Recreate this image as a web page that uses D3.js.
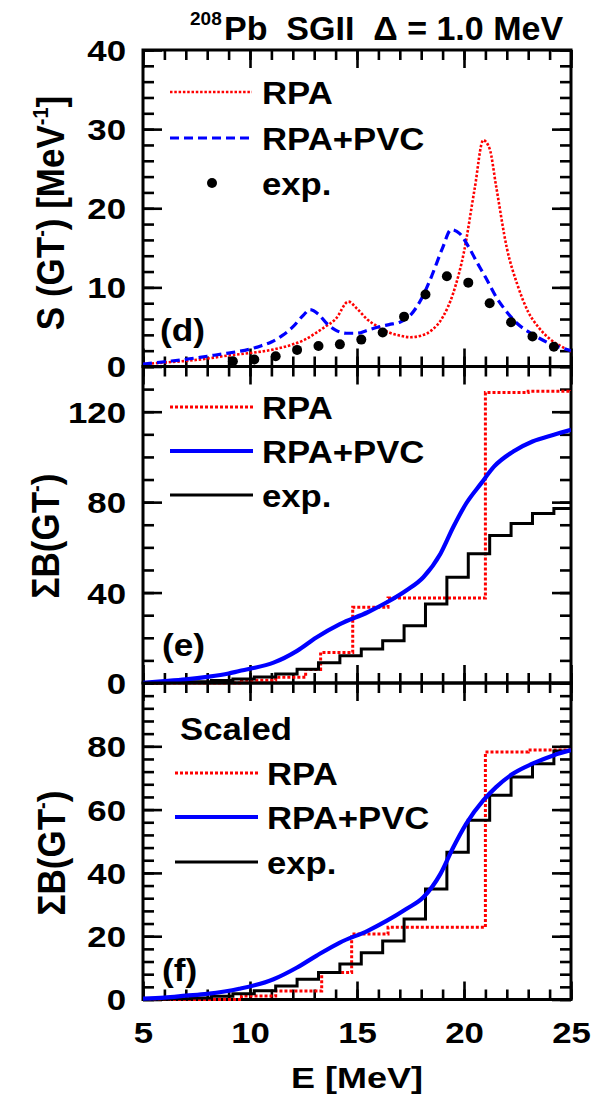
<!DOCTYPE html>
<html>
<head>
<meta charset="utf-8">
<script src="https://cdn.jsdelivr.net/npm/d3@7"></script>
<style>
  body { margin: 0; background: #fff; }
  svg { display: block; }
  text { font-family: "Liberation Sans", Arial, sans-serif; font-weight: bold; fill: #000; }
</style>
</head>
<body>
<svg id="chart" width="601" height="1104"></svg>
<script>
// ── Data ─────────────────────────────────────────────────────────────
const xMajor = [5, 10, 15, 20, 25];
const xMinor = [5,6,7,8,9,10,11,12,13,14,15,16,17,18,19,20,21,22,23,24,25];

// (d) strength functions
const dRpaE = [5.0,6.0,7.0,8.0,9.0,10.0,11.0,12.0,12.5,13.0,13.5,14.0,14.6,15.0,15.5,16.0,16.5,17.0,17.5,18.0,18.5,19.0,19.5,20.0,20.5,20.9,21.2,21.5,22.0,22.5,23.0,23.5,24.0,24.5,25.0];
const dRpaS = [0.3,0.5,0.7,1.0,1.4,1.7,2.1,2.8,3.3,4.1,5.0,6.0,8.2,7.3,5.9,5.0,4.3,3.9,3.7,3.9,4.6,6.2,9.3,14.5,22.5,28.6,27.5,22.8,15.0,10.3,6.9,4.9,3.5,2.6,1.9];
const dPvcE = [5.0,6.0,7.0,8.0,9.0,10.0,10.5,11.0,11.5,12.0,12.5,12.8,13.2,13.6,14.0,14.5,15.0,15.5,16.0,16.5,17.0,17.5,18.0,18.5,19.0,19.4,19.8,20.2,20.6,21.0,21.5,22.0,22.5,23.0,23.5,24.0,24.5,25.0];
const dPvcS = [0.3,0.6,0.9,1.3,1.7,2.2,2.6,3.1,3.9,5.0,6.5,7.2,6.6,5.4,4.6,4.2,4.2,4.6,5.0,5.3,5.6,6.5,8.5,11.5,15.0,17.3,16.8,15.2,13.2,11.3,8.8,6.9,5.4,4.4,3.6,2.9,2.4,2.0];
const dExpE = [9.2,10.2,11.2,12.2,13.2,14.2,15.2,16.2,17.2,18.2,19.2,20.2,21.2,22.2,23.2,24.2];
const dExpS = [0.67,0.88,1.3,2.1,2.6,2.8,3.4,4.3,6.3,9.1,11.4,10.6,8.0,5.6,3.8,2.5];

// (e) running sums
const expE  = [5.2,6.2,7.2,8.2,9.2,10.2,11.2,12.2,13.2,14.2,15.2,16.2,17.2,18.2,19.2,20.2,21.2,22.2,23.2,24.2];
const eRpaE = [5.0,9.6,11.2,12.6,13.3,14.8,16.45,21.0,23.0,25.0];
const eRpaB = [0,1.2,2.5,6.0,13.5,33.5,37.6,128.5,129.0,129.5];
const ePvcE = [5.0,6.0,7.0,8.0,9.0,9.5,10.0,11.1,12.2,13.1,14.2,15.5,16.4,17.3,18.1,18.9,19.5,20.1,20.8,21.4,22.3,23.2,24.2,25.0];
const ePvcB = [0.1,0.8,1.6,2.7,4.2,5.3,6.3,9.0,14.2,20.1,26.0,31.3,35.7,40.9,46.8,57.2,69.0,79.4,88.3,95.7,102.4,106.8,109.8,112.0];
const eExpB = [0.1,0.3,0.6,1.1,1.8,2.7,4.0,6.1,9.0,12.0,15.0,18.7,25.3,35.0,46.8,57.2,65.3,70.5,75.0,77.2];

// (f) scaled running sums
const fRpaE = [5.0,9.6,11.2,13.35,14.75,16.45,21.0,23.0,25.0];
const fRpaB = [0,1.1,2.7,8.5,20.7,22.8,78.2,78.8,79.3];
const fPvcE = [5.0,6.0,7.0,8.0,9.5,11.1,12.2,13.1,14.2,15.5,16.4,17.3,18.1,18.9,19.5,20.1,20.9,21.5,22.3,23.2,24.2,25.0];
const fPvcB = [0.3,0.6,1.2,1.8,3.4,6.4,10.1,13.8,18.0,21.7,24.9,28.6,32.3,39.7,48.1,55.5,62.9,67.1,71.4,74.5,77.2,78.8];
const fExpB = [0.1,0.2,0.5,1.0,1.8,2.8,4.3,6.4,8.5,11.2,14.8,18.5,25.4,34.9,46.5,56.6,64.5,70.3,74.5,78.5];

const legendLabels = ["RPA", "RPA+PVC", "exp."];

// ── Layout ───────────────────────────────────────────────────────────
const L = 143, R = 571, PH = 316.5;
const RED = "#ff0000", BLUE = "#0000ff";
const svg = d3.select("#chart");
const x = d3.scaleLinear().domain([5, 25]).range([L, R]);

const zip = (a, b) => a.map((v, i) => [v, b[i]]);

const panels = [
    { id: "d", top: 50,    yMax: 40,  major: [0,10,20,30,40], minor: d3.range(0, 40.1, 2),  labelX: 64, labelY: 213 },
    { id: "e", top: 366.5, yMax: 140, major: [0,40,80,120],   minor: d3.range(0, 140.1, 10), labelX: 59, labelY: 536 },
    { id: "f", top: 683,   yMax: 100, major: [0,20,40,60,80], minor: d3.range(0, 100.1, 4),  labelX: 65, labelY: 853 }
];

function stretchText(sel, sx) {
    return sel.attr("transform", function () {
        const t = d3.select(this).attr("transform") || "";
        return t + ` scale(${sx},1)`;
    });
}

panels.forEach(p => {
    const bottom = p.top + PH;
    p.y = d3.scaleLinear().domain([0, p.yMax]).range([bottom, p.top]);
    const g = svg.append("g");
    p.g = g;

    // frame
    g.append("rect").attr("x", L).attr("y", p.top).attr("width", R - L).attr("height", PH)
        .attr("fill", "none").attr("stroke", "#000").attr("stroke-width", 3);

    // inward ticks on all four sides
    const tick = (axis, tr) => {
        const a = g.append("g").attr("transform", tr).call(axis);
        a.select(".domain").remove();
        a.selectAll("line").attr("stroke", "#000").attr("stroke-width", 2.6);
        a.selectAll("text").remove();
    };
    tick(d3.axisTop(x).tickValues(xMinor).tickSize(10),    `translate(0,${bottom})`);
    tick(d3.axisTop(x).tickValues(xMajor).tickSize(18),    `translate(0,${bottom})`);
    tick(d3.axisBottom(x).tickValues(xMinor).tickSize(10), `translate(0,${p.top})`);
    tick(d3.axisBottom(x).tickValues(xMajor).tickSize(18), `translate(0,${p.top})`);
    tick(d3.axisRight(p.y).tickValues(p.minor).tickSize(11), `translate(${L},0)`);
    tick(d3.axisRight(p.y).tickValues(p.major).tickSize(19), `translate(${L},0)`);
    tick(d3.axisLeft(p.y).tickValues(p.minor).tickSize(11),  `translate(${R},0)`);
    tick(d3.axisLeft(p.y).tickValues(p.major).tickSize(19),  `translate(${R},0)`);

    // y tick labels
    const ya = g.append("g").attr("transform", `translate(${L},0)`)
        .call(d3.axisLeft(p.y).tickValues(p.major).tickSize(0).tickFormat(d3.format("d")));
    ya.select(".domain").remove();
    ya.selectAll("text").attr("x", null).attr("dy", "0.36em")
        .attr("font-size", 29).attr("font-family", null)
        .attr("transform", "translate(-17,0) scale(1.2,1)");

    // clip
    svg.append("clipPath").attr("id", "clip-" + p.id)
        .append("rect").attr("x", L).attr("y", p.top - 3).attr("width", R - L).attr("height", PH + 6);
    p.plot = g.append("g").attr("clip-path", `url(#clip-${p.id})`);
});

// ── (d) ──────────────────────────────────────────────────────────────
{
    const p = panels[0];
    const line = d3.line().x(d => x(d[0])).y(d => p.y(d[1])).curve(d3.curveMonotoneX);
    p.plot.append("path").datum(zip(dRpaE, dRpaS)).attr("d", line)
        .attr("fill", "none").attr("stroke", RED).attr("stroke-width", 2.6).attr("stroke-dasharray", "2.5,1.8");
    p.plot.append("path").datum(zip(dPvcE, dPvcS)).attr("d", line)
        .attr("fill", "none").attr("stroke", BLUE).attr("stroke-width", 3.2).attr("stroke-dasharray", "9,5");
    p.plot.selectAll("circle").data(zip(dExpE, dExpS)).enter().append("circle")
        .attr("cx", d => x(d[0])).attr("cy", d => p.y(d[1])).attr("r", 5).attr("fill", "#000");
}

// ── (e), (f) ─────────────────────────────────────────────────────────
function drawSums(p, rpaE, rpaB, pvcE, pvcB, expB) {
    const step = d3.line().x(d => x(d[0])).y(d => p.y(d[1])).curve(d3.curveStepAfter);
    const smooth = d3.line().x(d => x(d[0])).y(d => p.y(d[1])).curve(d3.curveMonotoneX);
    p.plot.append("path").datum(zip(rpaE, rpaB)).attr("d", step)
        .attr("fill", "none").attr("stroke", RED).attr("stroke-width", 3).attr("stroke-dasharray", "3,2");
    const expPts = [[5, 0]].concat(zip(expE, expB)).concat([[25, expB[expB.length - 1]]]);
    p.plot.append("path").datum(expPts).attr("d", step)
        .attr("fill", "none").attr("stroke", "#000").attr("stroke-width", 3);
    p.plot.append("path").datum(zip(pvcE, pvcB)).attr("d", smooth)
        .attr("fill", "none").attr("stroke", BLUE).attr("stroke-width", 4.2);
}
drawSums(panels[1], eRpaE, eRpaB, ePvcE, ePvcB, eExpB);
drawSums(panels[2], fRpaE, fRpaB, fPvcE, fPvcB, fExpB);

// ── Legends ──────────────────────────────────────────────────────────
function legend(g, x1, x2, tx, rows, styles) {
    rows.forEach((ry, i) => {
        const s = styles[i];
        if (s.dot) {
            g.append("circle").attr("cx", (x1 + x2) / 2 + 1).attr("cy", ry).attr("r", 5).attr("fill", "#000");
        } else {
            g.append("line").attr("x1", x1).attr("x2", x2).attr("y1", ry).attr("y2", ry)
                .attr("stroke", s.color).attr("stroke-width", s.width)
                .attr("stroke-dasharray", s.dash || null);
        }
        stretchText(g.append("text").attr("font-size", 31)
            .attr("transform", `translate(${tx},${ry + 12})`).text(legendLabels[i]), 1.12);
    });
}
legend(panels[0].g, 170, 252, 262, [92, 138, 183], [
    { color: RED, width: 2.6, dash: "2.5,1.8" }, { color: BLUE, width: 3.2, dash: "9,5" }, { dot: true }]);
legend(panels[1].g, 170, 253, 262, [407, 451, 495], [
    { color: RED, width: 3, dash: "3,2" }, { color: BLUE, width: 4.2 }, { color: "#000", width: 3 }]);
legend(panels[2].g, 175, 258, 267, [773, 817, 862], [
    { color: RED, width: 3, dash: "3,2" }, { color: BLUE, width: 4.2 }, { color: "#000", width: 3 }]);
stretchText(panels[2].g.append("text").attr("font-size", 31)
    .attr("transform", "translate(180,740)").text("Scaled"), 1.12);

// panel letters
[["(d)", 160, 341], ["(e)", 162, 656], ["(f)", 162, 981]].forEach(([t, tx, ty]) => {
    stretchText(svg.append("text").attr("font-size", 32).attr("transform", `translate(${tx},${ty})`).text(t), 1.1);
});

// ── Axis titles ──────────────────────────────────────────────────────
function yTitle(p, parts) {
    const t = svg.append("text").attr("font-size", 35).attr("text-anchor", "middle")
        .attr("transform", `translate(${p.labelX},${p.labelY}) rotate(-90) scale(1,1.1)`);
    parts.forEach(([s, sup]) => {
        const ts = t.append("tspan").text(s);
        if (sup) ts.attr("font-size", 20).attr("baseline-shift", "70%");
    });
}
yTitle(panels[0], [["S (GT"], ["-", true], [") [MeV"], ["-1", true], ["]"]]);
yTitle(panels[1], [["ΣB(GT"], ["-", true], [")"]]);
yTitle(panels[2], [["ΣB(GT"], ["-", true], [")"]]);

// x tick labels
const xa = svg.append("g").attr("transform", `translate(0,${panels[2].top + PH})`)
    .call(d3.axisBottom(x).tickValues(xMajor).tickSize(0));
xa.select(".domain").remove();
xa.selectAll("text").attr("y", null).attr("dy", null).attr("font-size", 29).attr("font-family", null)
    .attr("transform", "translate(0,43.5) scale(1.2,1)");

stretchText(svg.append("text").attr("font-size", 30).attr("text-anchor", "middle")
    .attr("transform", `translate(${(L + R) / 2},1088)`).text("E [MeV]"), 1.2);

// ── Title ────────────────────────────────────────────────────────────
svg.append("text").attr("font-size", 19).attr("x", 190).attr("y", 25).text("208");
svg.append("text").attr("font-size", 34).attr("x", 224).attr("y", 40)
    .text("Pb\u00a0\u00a0SGII\u00a0\u00a0Δ = 1.0 MeV");
</script>
</body>
</html>
